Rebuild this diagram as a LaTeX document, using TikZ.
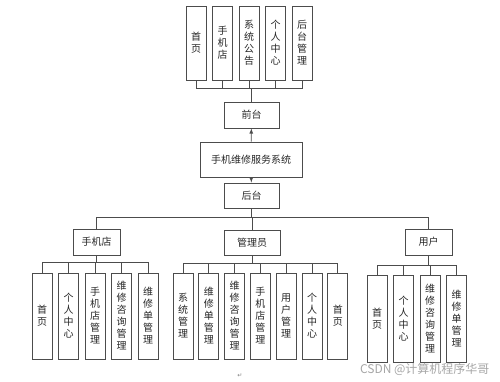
\documentclass[tikz,border=0pt]{standalone}
\usepackage{fontspec}
\newfontfamily\cjk{Noto Sans CJK SC}
\newfontfamily\symfont{DejaVu Sans}
\usetikzlibrary{arrows}
\tikzstyle{hbox} = [
    rectangle,
    minimum height=26pt,
    inner sep=0pt,
    draw=black!70,
    line width=0.8pt,
    text=black!85,
    font=\cjk\fontsize{10}{12}\selectfont
]
\tikzstyle{vbox} = [
    rectangle,
    minimum width=20pt,
    minimum height=86pt,
    inner sep=0pt,
    align=center,
    draw=black!70,
    line width=0.8pt,
    text=black!85,
    font=\cjk\fontsize{10}{12}\selectfont
]
\tikzstyle{link} = [draw=black!70, line width=0.8pt]
\tikzstyle{arrow} = [link,->,>=latex]

\begin{document}
\begin{tikzpicture}[x=1pt, y=-1pt, node distance=26.5pt]
\useasboundingbox (0,0) rectangle (500,381);

\node (sys) [hbox, minimum width=102pt, minimum height=35pt] at (251,159.5)
{手机维修服务系统};
\node (front) [hbox, minimum width=55pt] at (251.5,115) {前台};
\node (back) [hbox, minimum width=55pt, minimum height=25pt] at (251.5,195.5) {后台};

% front-end modules
\node (f1) [vbox, minimum height=74pt] at (196,43) {首\\页};
\node (f2) [vbox, minimum height=74pt, right of=f1] {手\\机\\店};
\node (f3) [vbox, minimum height=74pt, right of=f2] {系\\统\\公\\告};
\node (f4) [vbox, minimum height=74pt, right of=f3] {个\\人\\中\\心};
\node (f5) [vbox, minimum height=74pt, right of=f4] {后\\台\\管\\理};

% back-end roles
\node (shop) [hbox, minimum width=47pt] at (96.5,242) {手机店};
\node (admin) [hbox, minimum width=56pt, minimum height=25pt] at (252,242.5) {管理员};
\node (user) [hbox, minimum width=47pt] at (428.5,242) {用户};

\node (s1) [vbox] at (42,316) {首\\页};
\node (s2) [vbox, right of=s1] {个\\人\\中\\心};
\node (s3) [vbox, right of=s2] {手\\机\\店\\管\\理};
\node (s4) [vbox, right of=s3] {维\\修\\咨\\询\\管\\理};
\node (s5) [vbox, right of=s4] {维\\修\\单\\管\\理};

\begin{scope}[node distance=25.8pt]
\node (a1) [vbox] at (183,316) {系\\统\\管\\理};
\node (a2) [vbox, right of=a1] {维\\修\\单\\管\\理};
\node (a3) [vbox, right of=a2] {维\\修\\咨\\询\\管\\理};
\node (a4) [vbox, right of=a3] {手\\机\\店\\管\\理};
\node (a5) [vbox, right of=a4] {用\\户\\管\\理};
\node (a6) [vbox, right of=a5] {个\\人\\中\\心};
\node (a7) [vbox, right of=a6] {首\\页};
\end{scope}

\node (u1) [vbox, minimum height=87pt] at (377,318.5) {首\\页};
\node (u2) [vbox, minimum height=87pt, right of=u1] {个\\人\\中\\心};
\node (u3) [vbox, minimum height=87pt, right of=u2] {维\\修\\咨\\询\\管\\理};
\node (u4) [vbox, minimum height=87pt, right of=u3] {维\\修\\单\\管\\理};

\draw [arrow] (sys) -- (front);
\draw [arrow] (sys) -- (back);

\foreach \n in {f1,f2,f3,f4,f5}
    \draw [link] (front.north) -- ++(0,-13) -| (\n.south);
\foreach \n in {shop,admin,user}
    \draw [link] (back.south) -- ++(0,9) -| (\n.north);
\foreach \n in {s1,s2,s3,s4,s5}
    \draw [link] (shop.south) -- ++(0,7) -| (\n.north);
\foreach \n in {a1,a2,a3,a4,a5,a6,a7}
    \draw [link] (admin.south) -- ++(0,7.5) -| (\n.north);
\foreach \n in {u1,u2,u3,u4}
    \draw [link] (user.south) -- ++(0,10) -| (\n.north);

\node (mark) [text=black!50, font=\symfont\fontsize{6}{6}\selectfont] at (240,376) {↵};
\node (wm) [text=black!35, font=\cjk\fontsize{12}{12}\selectfont, anchor=east] at (493,369.5)
{CSDN @计算机程序华哥};

\end{tikzpicture}
\end{document}
